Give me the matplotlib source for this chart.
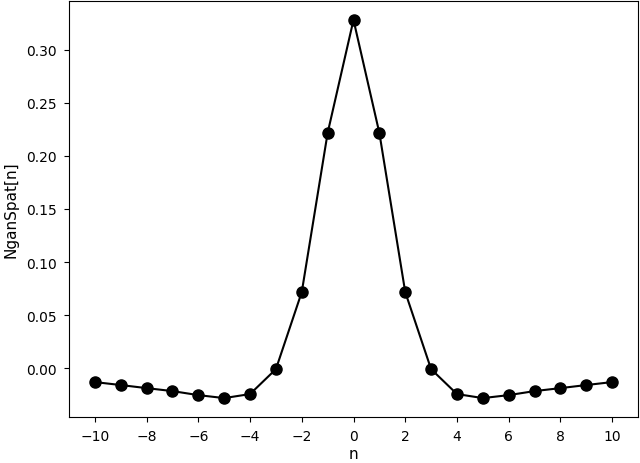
import numpy as np
import matplotlib
matplotlib.use("Agg")
import matplotlib.pyplot as plt

n = list(range(-10, 11))
values = [-0.0132, -0.0160, -0.0189, -0.0217, -0.0255, -0.0283, -0.0245, -0.0010,
          0.0717, 0.2217, 0.3283, 0.2217, 0.0717, -0.0010, -0.0245, -0.0283,
          -0.0255, -0.0217, -0.0189, -0.0160, -0.0132]

fig = plt.figure(figsize=(6.4, 4.64), dpi=100)
ax = fig.add_axes([69/640, 1 - 418/464, (638-69)/640, (418-2)/464])
ax.plot(n, values, color="black", marker="o", markersize=8, linewidth=1.5)
ax.set_xticks(range(-10, 11, 2))
ax.tick_params(axis="both", pad=5)
ax.set_xlabel("n", labelpad=2.5, fontsize=11)
ax.set_ylabel("NganSpat[n]", labelpad=6, fontsize=11)
fig.savefig("out.png", dpi=100)
